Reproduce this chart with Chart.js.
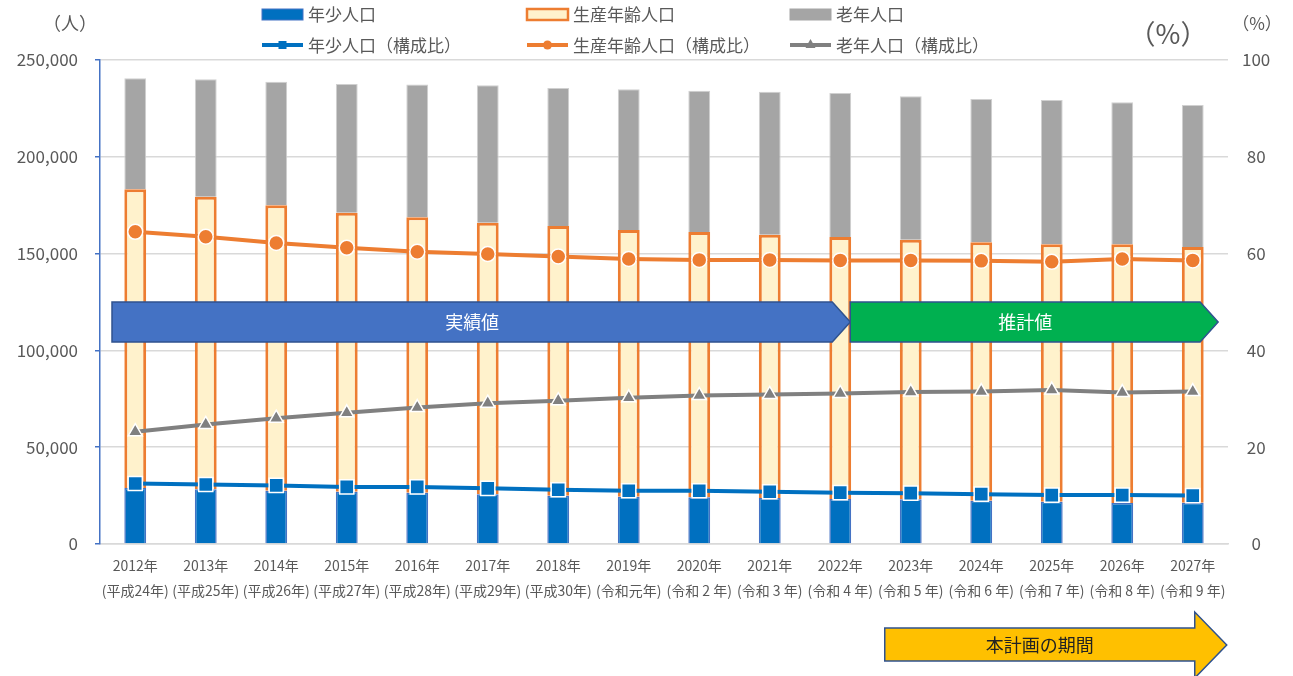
<!DOCTYPE html>
<html>
<head>
<meta charset="utf-8">
<script src="https://cdn.jsdelivr.net/npm/chart.js@4.4.1/dist/chart.umd.min.js"></script>
<style>
  body { margin: 0; background: #fff; }
  #wrap { width: 1293px; height: 676px; position: relative; }
</style>
</head>
<body>
<div id="wrap"><canvas id="chart"></canvas></div>
<script>
// data
const years = ['2012年', '2013年', '2014年', '2015年', '2016年', '2017年', '2018年', '2019年',
  '2020年', '2021年', '2022年', '2023年', '2024年', '2025年', '2026年', '2027年'];
const eras = ['(平成24年)', '(平成25年)', '(平成26年)', '(平成27年)', '(平成28年)', '(平成29年)', '(平成30年)', '(令和元年)',
  '(令和 2 年)', '(令和 3 年)', '(令和 4 年)', '(令和 5 年)', '(令和 6 年)', '(令和 7 年)', '(令和 8 年)', '(令和 9 年)'];

const youngPop = [28900, 28250, 27550, 27030, 26500, 25650, 24960, 24440, 24200, 23760, 23240, 23070, 22380, 21860, 21180, 21350];
const workingPop = [154310, 151150, 147390, 144110, 142240, 140330, 139300, 137750, 136960, 136020, 135330, 134130, 133440, 132930, 133610, 132060];
const elderlyPop = [57340, 60630, 63850, 66460, 68660, 70950, 71280, 72680, 73000, 73860, 74380, 74050, 74040, 74550, 73360, 73350];

const youngPct = [12.5, 12.3, 12.1, 11.8, 11.8, 11.5, 11.2, 11.0, 11.0, 10.8, 10.6, 10.5, 10.3, 10.1, 10.1, 10.0];
const workingPct = [64.5, 63.5, 62.2, 61.2, 60.4, 59.9, 59.4, 58.9, 58.7, 58.7, 58.6, 58.6, 58.5, 58.3, 58.9, 58.6];
const elderlyPct = [23.2, 24.7, 26.0, 27.1, 28.2, 29.1, 29.6, 30.2, 30.7, 30.9, 31.1, 31.4, 31.5, 31.8, 31.3, 31.5];

const popTicks = [0, 50000, 100000, 150000, 200000, 250000];
const pctTicks = [0, 20, 40, 60, 80, 100];

const FONT = '"Noto Sans CJK JP", "Noto Sans", sans-serif';
const TEXT = '#595959';
const BLUE = '#0070C0', ORANGE = '#ED7D31', GRAY = '#A5A5A5', DGRAY = '#808080';

function arrow(ctx, pts, fill, stroke) {
  ctx.beginPath();
  ctx.moveTo(pts[0][0], pts[0][1]);
  for (let i = 1; i < pts.length; i++) ctx.lineTo(pts[i][0], pts[i][1]);
  ctx.closePath();
  ctx.fillStyle = fill;
  ctx.fill();
  ctx.lineWidth = 1.5;
  ctx.strokeStyle = stroke;
  ctx.stroke();
}

const overlay = {
  id: 'overlay',
  afterDraw(chart) {
    const ctx = chart.ctx;
    const x = chart.scales.x, y = chart.scales.y;
    ctx.save();

    // unit labels
    ctx.fillStyle = TEXT;
    ctx.textBaseline = 'middle';
    ctx.textAlign = 'center';
    ctx.font = '18px ' + FONT;
    ctx.fillText('（人）', 70, 23);
    ctx.font = '17px ' + FONT;
    ctx.fillText('（%）', 1257, 24);
    ctx.font = '27px ' + FONT;
    ctx.fillText('（%）', 1168, 34);

    // legend
    const cols = [262, 527, 790];
    const names = ['年少人口', '生産年齢人口', '老年人口'];
    const fills = [BLUE, '#FFF2CC', GRAY];
    const borders = ['#4472C4', ORANGE, GRAY];
    const lineCols = [BLUE, ORANGE, DGRAY];
    ctx.font = '17px ' + FONT;
    ctx.textAlign = 'left';
    for (let i = 0; i < 3; i++) {
      const x0 = cols[i];
      ctx.fillStyle = fills[i];
      ctx.fillRect(x0, 9, 41, 11);
      ctx.lineWidth = i === 1 ? 2.5 : 1;
      ctx.strokeStyle = borders[i];
      ctx.strokeRect(x0, 9, 41, 11);
      ctx.fillStyle = TEXT;
      ctx.fillText(names[i], x0 + 46, 15);

      ctx.strokeStyle = lineCols[i];
      ctx.lineWidth = 4;
      ctx.beginPath();
      ctx.moveTo(x0, 45);
      ctx.lineTo(x0 + 41, 45);
      ctx.stroke();
      ctx.fillStyle = lineCols[i];
      const cx = x0 + 20.5;
      if (i === 0) ctx.fillRect(cx - 4, 41, 8, 8);
      else if (i === 1) { ctx.beginPath(); ctx.arc(cx, 45, 4.5, 0, Math.PI * 2); ctx.fill(); }
      else { ctx.beginPath(); ctx.moveTo(cx, 39); ctx.lineTo(cx + 5, 48); ctx.lineTo(cx - 5, 48); ctx.closePath(); ctx.fill(); }
      ctx.fillStyle = TEXT;
      ctx.fillText(names[i] + '（構成比）', x0 + 46, 46);
    }

    // period arrows, placed from the scales
    const step = x.getPixelForValue(1) - x.getPixelForValue(0);
    const top = y.getPixelForValue(125000);
    const bot = top + 40;
    const mid = (top + bot) / 2;
    const aL = chart.chartArea.left + 12;
    const aTip = x.getPixelForValue(10) + 10;
    arrow(ctx, [[aL, top], [aTip - 18, top], [aTip, mid], [aTip - 18, bot], [aL, bot]], '#4472C4', '#2F528F');
    const gTip = x.getPixelForValue(15) + step * 0.36;
    arrow(ctx, [[aTip, top], [gTip - 18, top], [gTip, mid], [gTip - 18, bot], [aTip, bot]], '#00B050', '#2F528F');
    ctx.fillStyle = '#fff';
    ctx.font = '18px ' + FONT;
    ctx.textAlign = 'center';
    ctx.fillText('実績値', (aL + aTip - 18) / 2, mid);
    ctx.fillText('推計値', (aTip + gTip - 18) / 2, mid);

    const yL = x.getPixelForValue(11) - 26;
    const yB = x.getPixelForValue(15) + 2;
    const yT = yB + 32;
    arrow(ctx, [[yL, 628], [yB, 628], [yB, 612], [yT, 645], [yB, 678], [yB, 661], [yL, 661]], '#FFC000', '#2F528F');
    ctx.fillStyle = '#222';
    ctx.fillText('本計画の期間', (yL + yB) / 2, 645);

    ctx.restore();
  }
};

const barCommon = { yAxisID: 'y', order: 2, barPercentage: 0.31, categoryPercentage: 1, stack: 'pop' };
const lineCommon = { type: 'line', yAxisID: 'y1', order: 0, borderWidth: 4, pointBorderColor: '#fff', pointBorderWidth: 1.5, tension: 0 };

new Chart(document.getElementById('chart'), {
  type: 'bar',
  data: {
    labels: years.map((yr, i) => [yr, eras[i]]),
    datasets: [
      Object.assign({ label: '年少人口', data: youngPop, backgroundColor: BLUE, borderColor: '#4472C4', borderWidth: 1.5 }, barCommon),
      Object.assign({ label: '生産年齢人口', data: workingPop, backgroundColor: '#FFF2CC', borderColor: ORANGE, borderWidth: 3 }, barCommon),
      Object.assign({ label: '老年人口', data: elderlyPop, backgroundColor: GRAY, borderColor: '#D0D0D0', borderWidth: 1 }, barCommon),
      Object.assign({ label: '年少人口（構成比）', data: youngPct, borderColor: BLUE, pointBackgroundColor: BLUE, pointStyle: 'rect', pointRadius: 10 }, lineCommon),
      Object.assign({ label: '生産年齢人口（構成比）', data: workingPct, borderColor: ORANGE, pointBackgroundColor: ORANGE, pointStyle: 'circle', pointRadius: 7.5 }, lineCommon),
      Object.assign({ label: '老年人口（構成比）', data: elderlyPct, borderColor: DGRAY, pointBackgroundColor: DGRAY, pointStyle: 'triangle', pointRadius: 8 }, lineCommon)
    ]
  },
  options: {
    responsive: true,
    maintainAspectRatio: false,
    animation: false,
    layout: { padding: { top: 60, left: 0, right: 0, bottom: 0 } },
    plugins: { legend: { display: false }, tooltip: { enabled: false } },
    scales: {
      x: {
        stacked: true,
        afterFit(axis) { axis.height = 132; },
        grid: { display: false, drawTicks: false },
        border: { color: '#D9D9D9', width: 1.5 },
        ticks: { color: TEXT, font: { family: FONT, size: 14, lineHeight: 1.8 }, padding: 9, maxRotation: 0, minRotation: 0, autoSkip: false }
      },
      y: {
        stacked: true,
        min: 0, max: 250000,
        afterFit(axis) { axis.width = 100; },
        afterBuildTicks(axis) { axis.ticks = popTicks.map(v => ({ value: v })); },
        grid: { color: '#D9D9D9', lineWidth: 1.5, tickColor: '#4472C4', tickLength: 5 },
        border: { color: '#4472C4', width: 1.5 },
        ticks: { color: TEXT, font: { family: FONT, size: 17 }, padding: 17, callback: v => v.toLocaleString('en-US') }
      },
      y1: {
        position: 'right',
        min: 0, max: 100,
        afterFit(axis) { axis.width = 65; },
        afterBuildTicks(axis) { axis.ticks = pctTicks.map(v => ({ value: v })); },
        grid: { drawOnChartArea: false, drawTicks: false },
        border: { display: false },
        ticks: { color: TEXT, font: { family: FONT, size: 17 }, padding: 14, crossAlign: 'center' }
      }
    }
  },
  plugins: [overlay]
});
</script>
</body>
</html>
